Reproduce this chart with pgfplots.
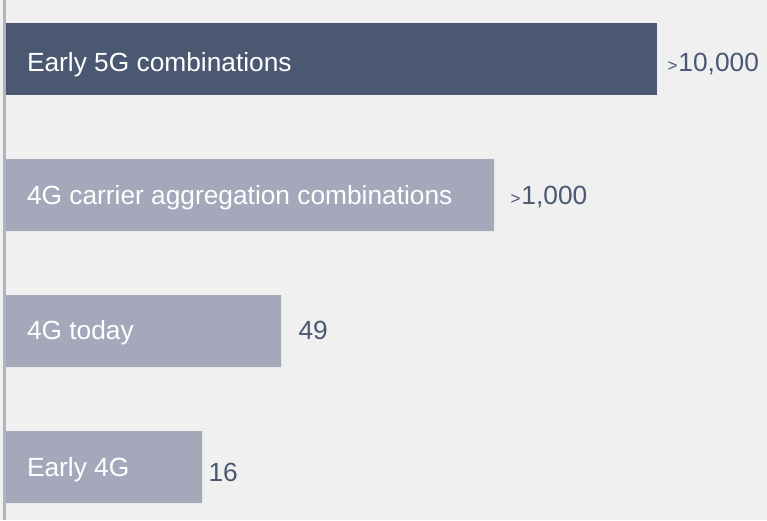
\documentclass[border=0pt]{standalone}
\usepackage{pgfplots}
\pgfplotsset{compat=1.18}
\usepackage{fontspec}
\setmainfont{Liberation Sans}
\definecolor{bg}{HTML}{F0F0F0}
\definecolor{darkbar}{HTML}{4A5872}
\definecolor{lightbar}{HTML}{A5A8BA}
\definecolor{axisline}{HTML}{B0B2C0}
\definecolor{valtext}{HTML}{4A5872}
\newcommand{\gt}{{\fontsize{17}{17}\selectfont >}\kern1pt}
\begin{document}
\begin{tikzpicture}
\fill[bg] (0,0) rectangle (767pt,520pt);
\begin{axis}[
  at={(6pt,0pt)}, anchor=south west,
  scale only axis, width=761pt, height=520pt,
  xmin=0, xmax=761, ymin=0, ymax=520, y dir=reverse,
  hide axis, clip=false,
  every node/.style={inner sep=0pt, outer sep=0pt},
]
\addplot[xbar, bar shift=0pt, bar width=72pt, fill=darkbar, draw=none] coordinates {(651,59)};
\addplot[xbar, bar shift=0pt, bar width=72pt, fill=lightbar, draw=none] coordinates {(488,195) (275,331) (196,467)};
% inner category labels
\node[anchor=base west, text=white, font=\fontsize{26.3}{30}\selectfont] at (axis cs:17.5,71) {Early 5G combinations};
\node[anchor=base west, text=white, font=\fontsize{26.3}{30}\selectfont] at (axis cs:17.5,204.3) {4G carrier aggregation combinations};
\node[anchor=base west, text=white, font=\fontsize{26.3}{30}\selectfont] at (axis cs:17.5,339.3) {4G today};
\node[anchor=base west, text=white, font=\fontsize{26.3}{30}\selectfont] at (axis cs:17.5,476.7) {Early 4G};
% value labels
\node[anchor=base west, text=valtext, font=\fontsize{26.3}{30}\selectfont] at (axis cs:658,71) {\gt10,000};
\node[anchor=base west, text=valtext, font=\fontsize{26.3}{30}\selectfont] at (axis cs:501,204.3) {\gt1,000};
\node[anchor=base west, text=valtext, font=\fontsize{26.3}{30}\selectfont] at (axis cs:289,339) {49};
\node[anchor=base west, text=valtext, font=\fontsize{26.3}{30}\selectfont] at (axis cs:199,481) {16};
\end{axis}
\draw[axisline, line width=3pt] (4.5pt,0) -- (4.5pt,520pt);
\pgfresetboundingbox
\path[use as bounding box] (0,0) rectangle (767pt,520pt);
\end{tikzpicture}
\end{document}
